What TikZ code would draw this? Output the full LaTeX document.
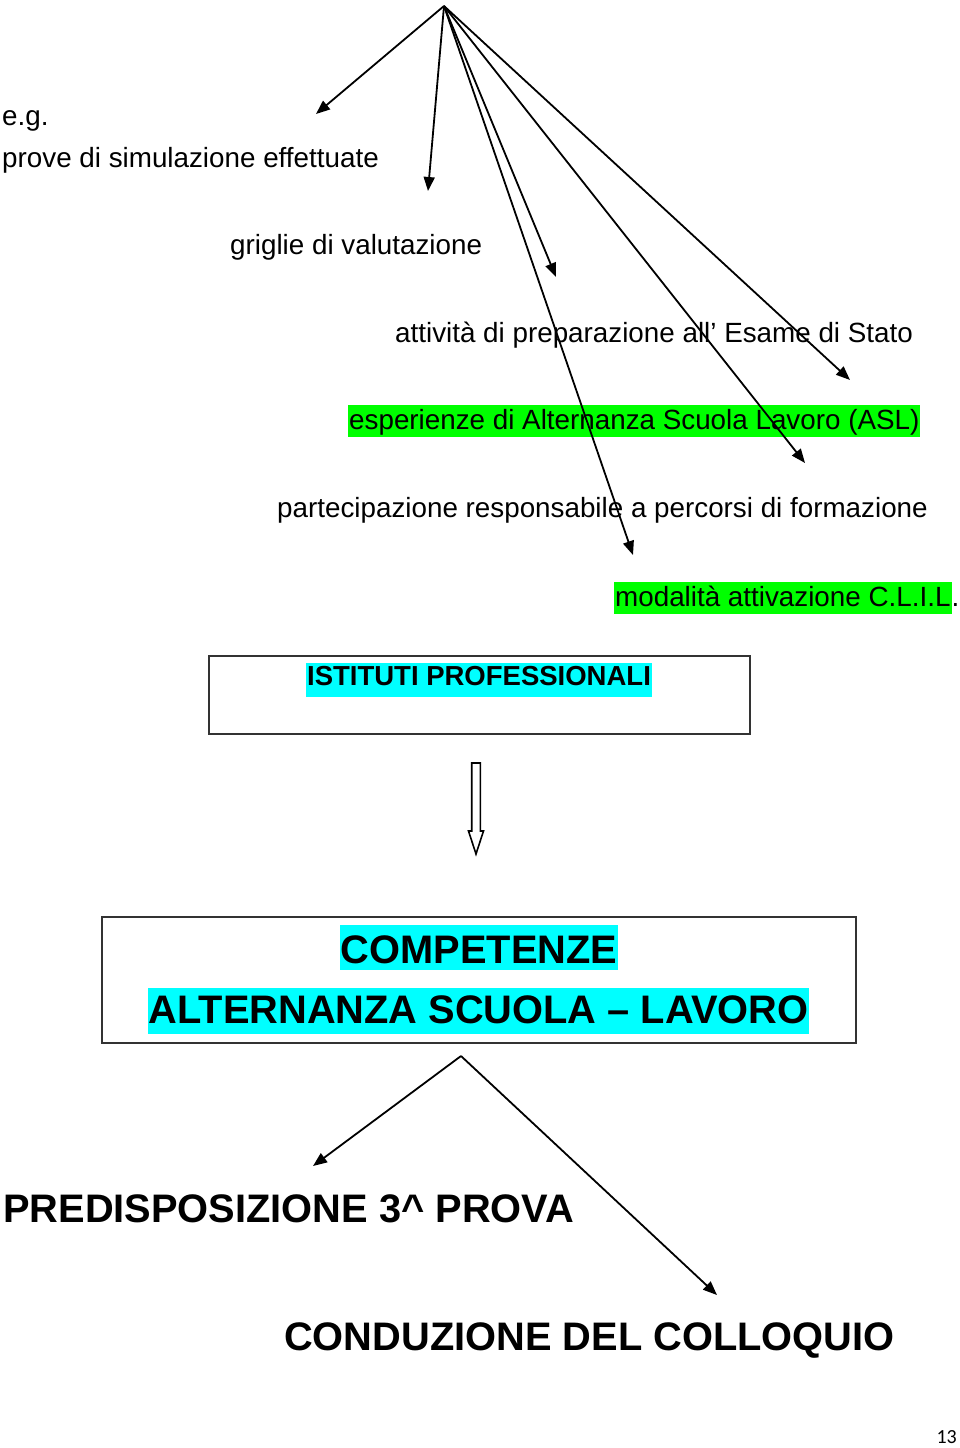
\documentclass[tikz,border=0pt]{standalone}
\usepackage{fontspec}
\setmainfont{Liberation Sans}
\newfontfamily\pagefont{Carlito}
\usetikzlibrary{arrows.meta}
\definecolor{hlgreen}{HTML}{00FF00}
\definecolor{hlcyan}{HTML}{00FFFF}
\definecolor{boxline}{HTML}{333333}
\newcommand\hlbox[4]{{\setlength{\fboxsep}{0pt}\colorbox{#1}{\rule[-#3]{0pt}{\dimexpr#2+#3\relax}\kern1pt#4\kern1pt}}}
\tikzset{
  txt/.style={anchor=base west, inner sep=0pt, font=\fontsize{27.8}{33}\selectfont},
  bigtxt/.style={inner sep=0pt, font=\fontsize{39.8}{47}\selectfont\bfseries},
  conn/.style={line width=1.8pt, -{Triangle[length=14pt,width=11pt]}},
  frame/.style={draw=boxline, line width=1.6pt, inner sep=0pt}
}
\begin{document}
\begin{tikzpicture}[x=1pt,y=-1pt]
\useasboundingbox (0,0) rectangle (960,1448);

% texts
\node[txt] (eg) at (2,125) {e.g.};
\node[txt] (prove) at (2,167) {prove di simulazione effettuate};
\node[txt] (griglie) at (230,254) {griglie di valutazione};
\node[txt] (attivita) at (395,342) {attività di preparazione all’ Esame di Stato};
\node[txt] (asl) at (348,429) {\hlbox{hlgreen}{24pt}{8pt}{esperienze di Alternanza Scuola Lavoro (ASL)}};
\node[txt] (partec) at (277,517) {partecipazione responsabile a percorsi di formazione};
\node[txt] (clil) at (614,606) {\hlbox{hlgreen}{24pt}{8pt}{modalità attivazione C.L.I.L}.};

% top fan of arrows
\coordinate (top) at (444,6);
\coordinate (e1) at (316,114);
\coordinate (e2) at (428,191);
\coordinate (e3) at (556,277);
\coordinate (e4) at (850,380);
\coordinate (e5) at (805,463);
\coordinate (e6) at (633,555);
\foreach \e in {e1,e2,e3,e4,e5,e6} \draw[conn] (top) -- (\e);

% box ISTITUTI PROFESSIONALI
\node[frame, minimum width=541pt, minimum height=78pt] (box1) at (479.5,695) {};
\node[anchor=base, inner sep=0pt, font=\fontsize{27.5}{32}\selectfont\bfseries] (ist) at (479,685) {\hlbox{hlcyan}{22pt}{12pt}{ISTITUTI PROFESSIONALI}};

% hollow arrow
\draw[line width=1.6pt, fill=white] (471.7,763) -- (480.3,763) -- (480.3,831) -- (483.5,831) -- (476,854) -- (468.5,831) -- (471.7,831) -- cycle;

% box COMPETENZE
\node[frame, minimum width=754pt, minimum height=126pt] (box2) at (479,980) {};
\node[bigtxt, anchor=base] (comp) at (479,963) {\hlbox{hlcyan}{38pt}{7pt}{COMPETENZE}};
\node[bigtxt, anchor=base] (asl2) at (478.5,1023) {\hlbox{hlcyan}{35pt}{11pt}{ALTERNANZA SCUOLA – LAVORO}};

% bottom arrows
\coordinate (bt) at (461,1056);
\coordinate (b1) at (313,1166);
\coordinate (b2) at (717,1295);
\draw[conn] (bt) -- (b1);
\draw[conn] (bt) -- (b2);

\node[bigtxt, anchor=base west] (pred) at (3,1222) {PREDISPOSIZIONE 3\^{} PROVA};
\node[bigtxt, anchor=base west] (cond) at (284,1350) {CONDUZIONE DEL COLLOQUIO};

\node[anchor=base east, inner sep=0pt, font=\pagefont\fontsize{20}{24}\selectfont] (pg) at (957,1443) {13};
\end{tikzpicture}
\end{document}
